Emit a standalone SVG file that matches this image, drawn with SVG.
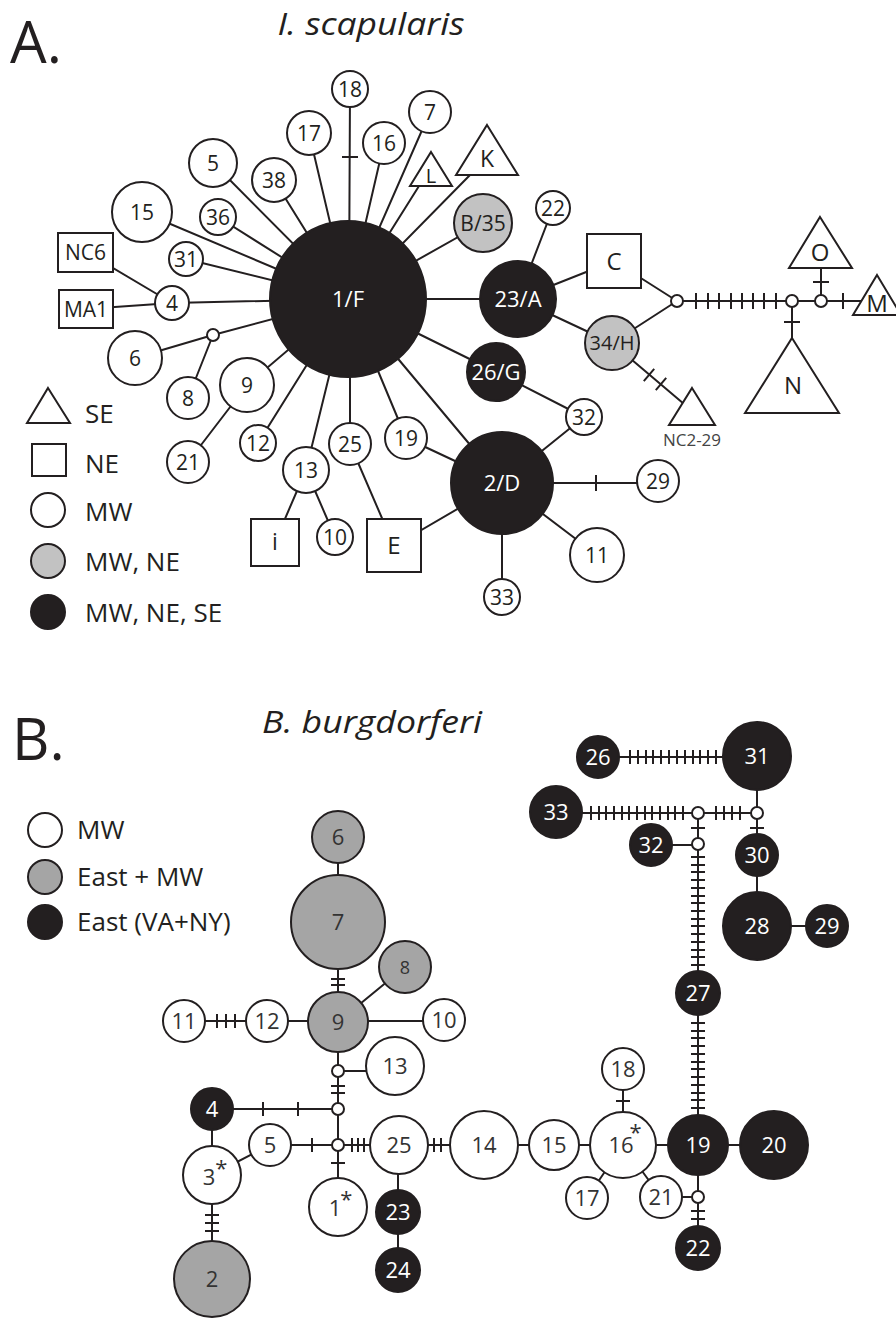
<svg xmlns="http://www.w3.org/2000/svg" width="896" height="1319" viewBox="0 0 896 1319">
<style>
.e{stroke:#231f20;stroke-width:2;fill:none}
.s{stroke:#231f20;stroke-width:2}
.w{fill:#fff}
.g{fill:#c2c2c2}
.h{fill:#a5a5a5}
.k{fill:#231f20}
text{font-family:"Open Sans","Noto Sans","Liberation Sans",sans-serif;fill:#231f20;text-anchor:middle}
.a{font-size:21px}
.m{font-size:22px}
.b{font-size:22px;fill:#333}
.x{fill:#fff}
.st{text-anchor:start}
.lg{font-size:26px;text-anchor:start}
.ti{font-size:31px;font-style:italic}
.big{font-size:58px;text-anchor:start}
</style>
<rect width="896" height="1319" fill="#fff"/>
<g id="titles">
<text class="big" x="10" y="63">A.</text>
<text class="ti" x="371" y="35" textLength="187" lengthAdjust="spacingAndGlyphs">I. scapularis</text>
<text class="big" x="12" y="760">B.</text>
<text class="ti" x="372" y="733" textLength="220" lengthAdjust="spacingAndGlyphs">B. burgdorferi</text>
</g>
<g id="connectors">
<path class="e" d="M142,212L348,299 M213,163L348,299 M274,180L348,299 M309,133L348,299 M350,89L349,299 M384,143L348,299 M430,112L348,299 M419,186L348,299 M470,175L348,299 M483,223L348,299 M218,217L348,299 M186,259L348,299 M172,303L348,299 M86,252L172,303 M86,309L172,303 M135,358L213,335 M188,398L213,335 M213,335L348,299 M247,385L348,299 M188,462L247,385 M258,443L348,299 M306,470L348,299 M275,542L306,470 M335,537L306,470 M350,444L350,299 M394,546L350,444 M406,438L348,299 M406,438L502,483 M348,299L502,483 M348,299L496,372 M496,372L584,417 M584,417L502,483 M394,546L502,483 M502,483H658 M502,483L597,555 M502,483V597 M348,299H518 M553,208L518,299 M518,299L614,261 M518,299L612,343 M614,261L677,301 M612,343L677,301 M677,301H862 M821,301V268 M792,301V338 M612,343L684,404"/>
<path class="e" d="M342,157H358 M696,293V309 M708,293V309 M719,293V309 M731,293V309 M742,293V309 M753,293V309 M764,293V309 M776,293V309 M843,293V309 M813,282H829 M784,322H800 M596,475V491 M643.8,381.1L654.2,368.9 M655.8,390.1L666.2,377.9"/>
<path class="e" d="M338,837V1207 M405,967L338,1022 M184,1021H444 M338,1071H395 M212,1109H338 M212,1109V1279 M270,1145L212,1175 M270,1145H774 M398,1145V1270 M623,1145V1069 M623,1145L587,1198 M623,1145L661,1197 M661,1197H698 M698,1248V813 M651,845H698 M556,813H757 M757,756V926 M757,926H827 M598,757H757"/>
<path class="e" d="M331,979H345 M331,985H345 M217,1014V1028 M226,1014V1028 M235,1014V1028 M331,1086H345 M331,1093H345 M263,1102V1116 M298,1102V1116 M312,1138V1152 M352,1138V1152 M358,1138V1152 M364,1138V1152 M434,1138V1152 M441,1138V1152 M331,1163H345 M205,1215H219 M205,1223H219 M205,1231H219 M616,1101H630 M691,1211H705 M691,1219H705 M691,828H705 M750,828H764 M716,806V820 M724,806V820 M732,806V820 M740,806V820"/>
<path class="e" d="M691,1023H705 M691,1031H705 M691,1038H705 M691,1046H705 M691,1054H705 M691,1062H705 M691,1069H705 M691,1077H705 M691,1085H705 M691,1093H705 M691,1100H705 M691,1108H705 M691,857H705 M691,865H705 M691,872H705 M691,880H705 M691,888H705 M691,896H705 M691,903H705 M691,911H705 M691,919H705 M691,926H705 M691,934H705 M691,942H705 M691,950H705 M691,957H705 M691,965H705 M591,806V820 M599,806V820 M606,806V820 M614,806V820 M622,806V820 M629,806V820 M637,806V820 M645,806V820 M652,806V820 M660,806V820 M668,806V820 M675,806V820 M683,806V820 M630,750V764 M638,750V764 M646,750V764 M653,750V764 M661,750V764 M669,750V764 M677,750V764 M685,750V764 M693,750V764 M700,750V764 M708,750V764 M716,750V764"/>
</g>
<g id="a-1F"><circle class="s k" cx="348" cy="299" r="78"/><text class="m x" x="348" y="307">1/F</text></g>
<g id="a-23A"><circle class="s k" cx="518" cy="299" r="38"/><text class="m x" x="518" y="307">23/A</text></g>
<g id="a-2D"><circle class="s k" cx="502" cy="483" r="51"/><text class="m x" x="502" y="491">2/D</text></g>
<g id="a-26G"><circle class="s k" cx="496" cy="372" r="29"/><text class="m x" x="496" y="380">26/G</text></g>
<g id="a-B35"><circle class="s g" cx="483" cy="223" r="29"/><text class="a" x="483" y="231">B/35</text></g>
<g id="a-34H"><circle class="s g" cx="612" cy="343" r="27"/><text class="a" x="612" y="350" style="font-size:20px">34/H</text></g>
<g id="a-5"><circle class="s w" cx="213" cy="163" r="24"/><text class="a" x="213" y="171">5</text></g>
<g id="a-38"><circle class="s w" cx="274" cy="180" r="22"/><text class="a" x="274" y="188">38</text></g>
<g id="a-17"><circle class="s w" cx="309" cy="133" r="22"/><text class="a" x="309" y="141">17</text></g>
<g id="a-18"><circle class="s w" cx="350" cy="89" r="18"/><text class="a" x="350" y="97">18</text></g>
<g id="a-16"><circle class="s w" cx="384" cy="143" r="21"/><text class="a" x="384" y="151">16</text></g>
<g id="a-7"><circle class="s w" cx="430" cy="112" r="21"/><text class="a" x="430" y="120">7</text></g>
<g id="a-15"><circle class="s w" cx="142" cy="212" r="30"/><text class="a" x="142" y="220">15</text></g>
<g id="a-36"><circle class="s w" cx="218" cy="217" r="18"/><text class="a" x="218" y="225">36</text></g>
<g id="a-31"><circle class="s w" cx="186" cy="259" r="17"/><text class="a" x="186" y="267">31</text></g>
<g id="a-4"><circle class="s w" cx="172" cy="303" r="17"/><text class="a" x="172" y="311">4</text></g>
<g id="a-6"><circle class="s w" cx="135" cy="358" r="27"/><text class="a" x="135" y="366">6</text></g>
<g id="a-8"><circle class="s w" cx="188" cy="398" r="21"/><text class="a" x="188" y="406">8</text></g>
<g id="a-9"><circle class="s w" cx="247" cy="385" r="27"/><text class="a" x="247" y="393">9</text></g>
<g id="a-21"><circle class="s w" cx="188" cy="462" r="21"/><text class="a" x="188" y="470">21</text></g>
<g id="a-12"><circle class="s w" cx="258" cy="443" r="18"/><text class="a" x="258" y="451">12</text></g>
<g id="a-13"><circle class="s w" cx="306" cy="470" r="23"/><text class="a" x="306" y="478">13</text></g>
<g id="a-10"><circle class="s w" cx="335" cy="537" r="18"/><text class="a" x="335" y="545">10</text></g>
<g id="a-25"><circle class="s w" cx="350" cy="444" r="21"/><text class="a" x="350" y="452">25</text></g>
<g id="a-19"><circle class="s w" cx="406" cy="438" r="21"/><text class="a" x="406" y="446">19</text></g>
<g id="a-32"><circle class="s w" cx="584" cy="417" r="18"/><text class="a" x="584" y="425">32</text></g>
<g id="a-29"><circle class="s w" cx="658" cy="481" r="21"/><text class="a" x="658" y="489">29</text></g>
<g id="a-11"><circle class="s w" cx="597" cy="555" r="27"/><text class="a" x="597" y="563">11</text></g>
<g id="a-33"><circle class="s w" cx="502" cy="597" r="18"/><text class="a" x="502" y="605">33</text></g>
<g id="a-22"><circle class="s w" cx="553" cy="208" r="17"/><text class="a" x="553" y="216">22</text></g>
<g id="a-NC6"><rect class="s w" x="58" y="233" width="55" height="39"/><text class="a" x="85.5" y="260">NC6</text></g>
<g id="a-MA1"><rect class="s w" x="59" y="290" width="54" height="38"/><text class="a" x="86" y="317">MA1</text></g>
<g id="a-C"><rect class="s w" x="587" y="234" width="54" height="54"/><text class="a" x="614" y="270" style="font-size:24px">C</text></g>
<g id="a-i"><rect class="s w" x="251" y="519" width="48" height="47"/><text class="a" x="275" y="550" style="font-size:23px">i</text></g>
<g id="a-E"><rect class="s w" x="367" y="519" width="54" height="53"/><text class="a" x="394" y="554" style="font-size:24px">E</text></g>
<g id="a-L"><polygon class="s w" points="431,152 452,186 410,186"/><text class="a" x="431" y="183" style="font-size:20px">L</text></g>
<g id="a-K"><polygon class="s w" points="487,125 518,175 456,175"/><text class="a" x="487" y="167" style="font-size:23px">K</text></g>
<g id="a-O"><polygon class="s w" points="820,217 852,268 789,268"/><text class="a" x="820" y="261" style="font-size:24px">O</text></g>
<g id="a-M"><polygon class="s w" points="877,275 901,315 853,315"/><text class="a" x="877" y="312" style="font-size:24px">M</text></g>
<g id="a-N"><polygon class="s w" points="792,338 839,413 745,413"/><text class="a" x="793" y="394" style="font-size:24px">N</text></g>
<g id="a-NC2-29"><polygon class="s w" points="692,388 715,425 669,425"/><text class="a" x="692" y="446" style="font-size:17px;fill:#444">NC2-29</text></g>
<g id="a-junctions"><circle class="s w" cx="213" cy="335" r="6"/><circle class="s w" cx="677" cy="301" r="6"/><circle class="s w" cx="792" cy="301" r="6"/><circle class="s w" cx="821" cy="301" r="6"/></g>
<g id="a-legend">
<polygon class="s w" points="48,388 70,423 27,423"/><text class="lg" x="85" y="423">SE</text>
<rect class="s w" x="32" y="444" width="34" height="32"/><text class="lg" x="85" y="473">NE</text>
<circle class="s w" cx="48" cy="510" r="17"/><text class="lg" x="85" y="521">MW</text>
<circle class="s g" cx="48" cy="561" r="17"/><text class="lg" x="85" y="571">MW, NE</text>
<circle class="s k" cx="48" cy="612" r="17"/><text class="lg" x="85" y="622">MW, NE, SE</text>
</g>
<g id="b-legend">
<circle class="s w" cx="45" cy="830" r="17"/><text class="lg" x="77" y="839">MW</text>
<circle class="s h" cx="45" cy="877" r="17"/><text class="lg" x="77" y="886">East + MW</text>
<circle class="s k" cx="45" cy="922" r="17"/><text class="lg" x="77" y="931">East (VA+NY)</text>
</g>
<g id="b-6"><circle class="s h" cx="338" cy="837" r="26"/><text class="b" x="338" y="845">6</text></g>
<g id="b-7"><circle class="s h" cx="338" cy="922" r="47"/><text class="b" x="338" y="930">7</text></g>
<g id="b-8"><circle class="s h" cx="405" cy="967" r="26"/><text class="b" x="405" y="974" style="font-size:18px">8</text></g>
<g id="b-9"><circle class="s h" cx="338" cy="1022" r="30"/><text class="b" x="338" y="1030">9</text></g>
<g id="b-10"><circle class="s w" cx="444" cy="1020" r="21"/><text class="b" x="444" y="1028">10</text></g>
<g id="b-12"><circle class="s w" cx="267" cy="1021" r="21"/><text class="b" x="267" y="1029">12</text></g>
<g id="b-11"><circle class="s w" cx="184" cy="1021" r="21"/><text class="b" x="184" y="1029">11</text></g>
<g id="b-13"><circle class="s w" cx="395" cy="1066" r="29"/><text class="b" x="395" y="1074">13</text></g>
<g id="b-4"><circle class="s k" cx="212" cy="1109" r="21"/><text class="b x" x="212" y="1117">4</text></g>
<g id="b-5"><circle class="s w" cx="270" cy="1145" r="21"/><text class="b" x="270" y="1153">5</text></g>
<g id="b-3"><circle class="s w" cx="212" cy="1175" r="29"/><text class="b st" x="202.7" y="1185">3<tspan dy="-9">*</tspan></text></g>
<g id="b-2"><circle class="s h" cx="212" cy="1279" r="38"/><text class="b" x="212" y="1287">2</text></g>
<g id="b-1"><circle class="s w" cx="338" cy="1207" r="29"/><text class="b st" x="328.7" y="1216">1<tspan dx="-1" dy="-9">*</tspan></text></g>
<g id="b-25"><circle class="s w" cx="399" cy="1145" r="29"/><text class="b" x="399" y="1153">25</text></g>
<g id="b-23"><circle class="s k" cx="398" cy="1212" r="22"/><text class="b x" x="398" y="1220">23</text></g>
<g id="b-24"><circle class="s k" cx="398" cy="1270" r="22"/><text class="b x" x="398" y="1278">24</text></g>
<g id="b-14"><circle class="s w" cx="484" cy="1145" r="34"/><text class="b" x="484" y="1153">14</text></g>
<g id="b-15"><circle class="s w" cx="554" cy="1145" r="25"/><text class="b" x="554" y="1153">15</text></g>
<g id="b-16"><circle class="s w" cx="623" cy="1145" r="33"/><text class="b st" x="608.4" y="1153">16<tspan dx="-4" dy="-13">*</tspan></text></g>
<g id="b-18"><circle class="s w" cx="623" cy="1069" r="21"/><text class="b" x="623" y="1077">18</text></g>
<g id="b-17"><circle class="s w" cx="587" cy="1198" r="21"/><text class="b" x="587" y="1206">17</text></g>
<g id="b-21"><circle class="s w" cx="661" cy="1197" r="21"/><text class="b" x="661" y="1205">21</text></g>
<g id="b-19"><circle class="s k" cx="698" cy="1145" r="30"/><text class="b x" x="698" y="1153">19</text></g>
<g id="b-20"><circle class="s k" cx="774" cy="1145" r="34"/><text class="b x" x="774" y="1153">20</text></g>
<g id="b-22"><circle class="s k" cx="698" cy="1248" r="22"/><text class="b x" x="698" y="1256">22</text></g>
<g id="b-27"><circle class="s k" cx="698" cy="993" r="22"/><text class="b x" x="698" y="1001">27</text></g>
<g id="b-32"><circle class="s k" cx="651" cy="845" r="21"/><text class="b x" x="651" y="853">32</text></g>
<g id="b-33"><circle class="s k" cx="556" cy="812" r="26"/><text class="b x" x="556" y="820">33</text></g>
<g id="b-26"><circle class="s k" cx="598" cy="757" r="21"/><text class="b x" x="598" y="765">26</text></g>
<g id="b-31"><circle class="s k" cx="757" cy="756" r="34"/><text class="b x" x="757" y="764">31</text></g>
<g id="b-30"><circle class="s k" cx="757" cy="855" r="21"/><text class="b x" x="757" y="863">30</text></g>
<g id="b-28"><circle class="s k" cx="757" cy="926" r="34"/><text class="b x" x="757" y="934">28</text></g>
<g id="b-29"><circle class="s k" cx="827" cy="926" r="21"/><text class="b x" x="827" y="934">29</text></g>
<g id="b-junctions"><circle class="s w" cx="338" cy="1071" r="6"/><circle class="s w" cx="338" cy="1109" r="6"/><circle class="s w" cx="338" cy="1145" r="6"/><circle class="s w" cx="698" cy="1197" r="6"/><circle class="s w" cx="698" cy="844" r="6"/><circle class="s w" cx="698" cy="813" r="6"/><circle class="s w" cx="757" cy="813" r="6"/></g>
</svg>
